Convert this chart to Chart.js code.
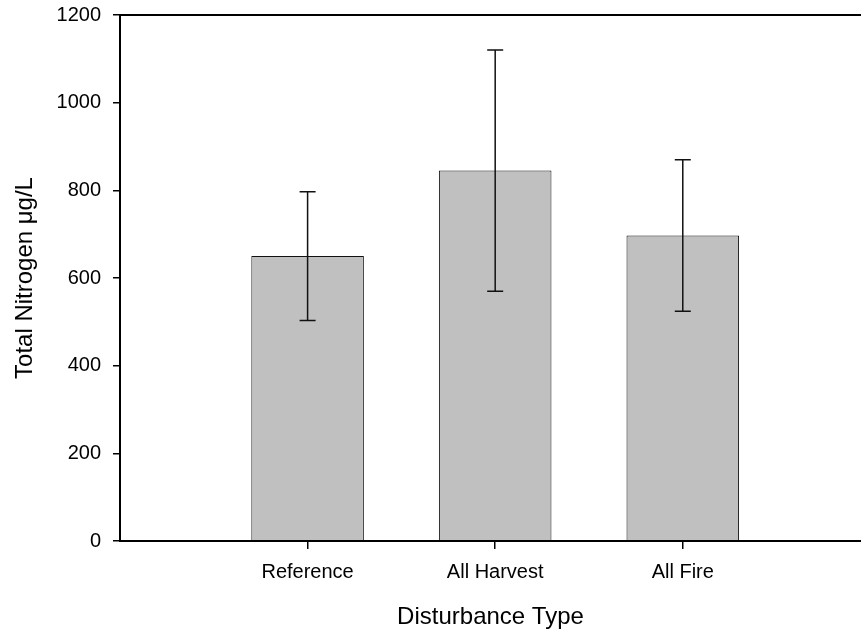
<!DOCTYPE html>
<html>
<head>
<meta charset="utf-8">
<script src="https://cdn.jsdelivr.net/npm/chart.js@4"></script>
<style>
  body { margin: 0; background: #fff; }
  canvas { display: block; }
</style>
</head>
<body>
<canvas id="chart1" width="861" height="632"></canvas>
<script>
// Datos
var categorias = ["Reference", "All Harvest", "All Fire"];
var medias = [650, 845, 697];
var errores = [147, 275, 173];
var marcasY = [0, 200, 400, 600, 800, 1000, 1200];

var fuente = "'Liberation Sans', Arial, sans-serif";

// Barras de error dibujadas con las escalas del gráfico
var barrasError = {
    id: "barrasError",
    afterDatasetsDraw: function (chart) {
        var ctx = chart.ctx;
        var meta = chart.getDatasetMeta(0);
        var escalaY = chart.scales.y;
        ctx.save();
        ctx.strokeStyle = "#111";
        ctx.lineWidth = 1.5;
        for (var i = 0; i < medias.length; i++) {
            var x = meta.data[i].x;
            var yArriba = escalaY.getPixelForValue(medias[i] + errores[i]);
            var yAbajo = escalaY.getPixelForValue(medias[i] - errores[i]);
            ctx.beginPath();
            ctx.moveTo(x, yArriba);
            ctx.lineTo(x, yAbajo);
            ctx.moveTo(x - 8, yArriba);
            ctx.lineTo(x + 8, yArriba);
            ctx.moveTo(x - 8, yAbajo);
            ctx.lineTo(x + 8, yAbajo);
            ctx.stroke();
        }
        ctx.restore();
    },
    // Línea superior del marco
    afterDraw: function (chart) {
        var a = chart.chartArea;
        var ctx = chart.ctx;
        ctx.save();
        ctx.strokeStyle = "#000";
        ctx.lineWidth = 2;
        ctx.beginPath();
        ctx.moveTo(a.left - 1, a.top);
        ctx.lineTo(a.right, a.top);
        ctx.stroke();
        ctx.restore();
    }
};

var datos = {
    datasets: [{
        data: categorias.map(function (c, i) { return { x: i + 1, y: medias[i] }; }),
        backgroundColor: "#c0c0c0",
        borderColor: "#111",
        borderWidth: 1,
        barPercentage: 0.6,
        categoryPercentage: 1
    }]
};

var configuracion = {
    type: "bar",
    data: datos,
    options: {
        responsive: false,
        animation: false,
        layout: { padding: { top: 15, right: 0, bottom: 0, left: 0 } },
        plugins: { legend: { display: false }, tooltip: { enabled: false } },
        scales: {
            x: {
                type: "linear",
                min: 0,
                max: 3.95,
                offset: false,
                afterBuildTicks: function (escala) {
                    escala.ticks = categorias.map(function (c, i) { return { value: i + 1 }; });
                },
                afterFit: function (escala) {
                    escala.height = 91;
                    escala.paddingLeft = 0;
                    escala.paddingRight = 0;
                },
                ticks: {
                    color: "#000",
                    font: { family: fuente, size: 20 },
                    padding: 11,
                    maxRotation: 0,
                    autoSkip: false,
                    callback: function (v) { return categorias[v - 1]; }
                },
                grid: { offset: false, drawOnChartArea: false, drawTicks: true, tickLength: 8, color: "#000", lineWidth: 1.5 },
                border: { display: true, color: "#000", width: 2, z: 1 },
                title: {
                    display: true,
                    text: "Disturbance Type",
                    color: "#000",
                    font: { family: fuente, size: 24 },
                    padding: { top: 0, bottom: 0 }
                }
            },
            y: {
                min: 0,
                max: 1200,
                afterBuildTicks: function (escala) {
                    escala.ticks = marcasY.map(function (v) { return { value: v }; });
                },
                afterFit: function (escala) {
                    escala.width = 120;
                    escala.paddingTop = 0;
                    escala.paddingBottom = 0;
                },
                ticks: {
                    color: "#000",
                    font: { family: fuente, size: 20 },
                    padding: 12,
                    callback: function (v) { return String(v); }
                },
                grid: { drawOnChartArea: false, drawTicks: true, tickLength: 7, color: "#000", lineWidth: 1.5 },
                border: { display: true, color: "#000", width: 2, z: 1 },
                title: {
                    display: true,
                    text: "Total Nitrogen μg/L",
                    color: "#000",
                    font: { family: fuente, size: 24 },
                    padding: { top: 11, bottom: 0 }
                }
            }
        }
    },
    plugins: [barrasError]
};

var contexto = document.getElementById("chart1").getContext("2d");
var miGrafico = new Chart(contexto, configuracion);
</script>
</body>
</html>
